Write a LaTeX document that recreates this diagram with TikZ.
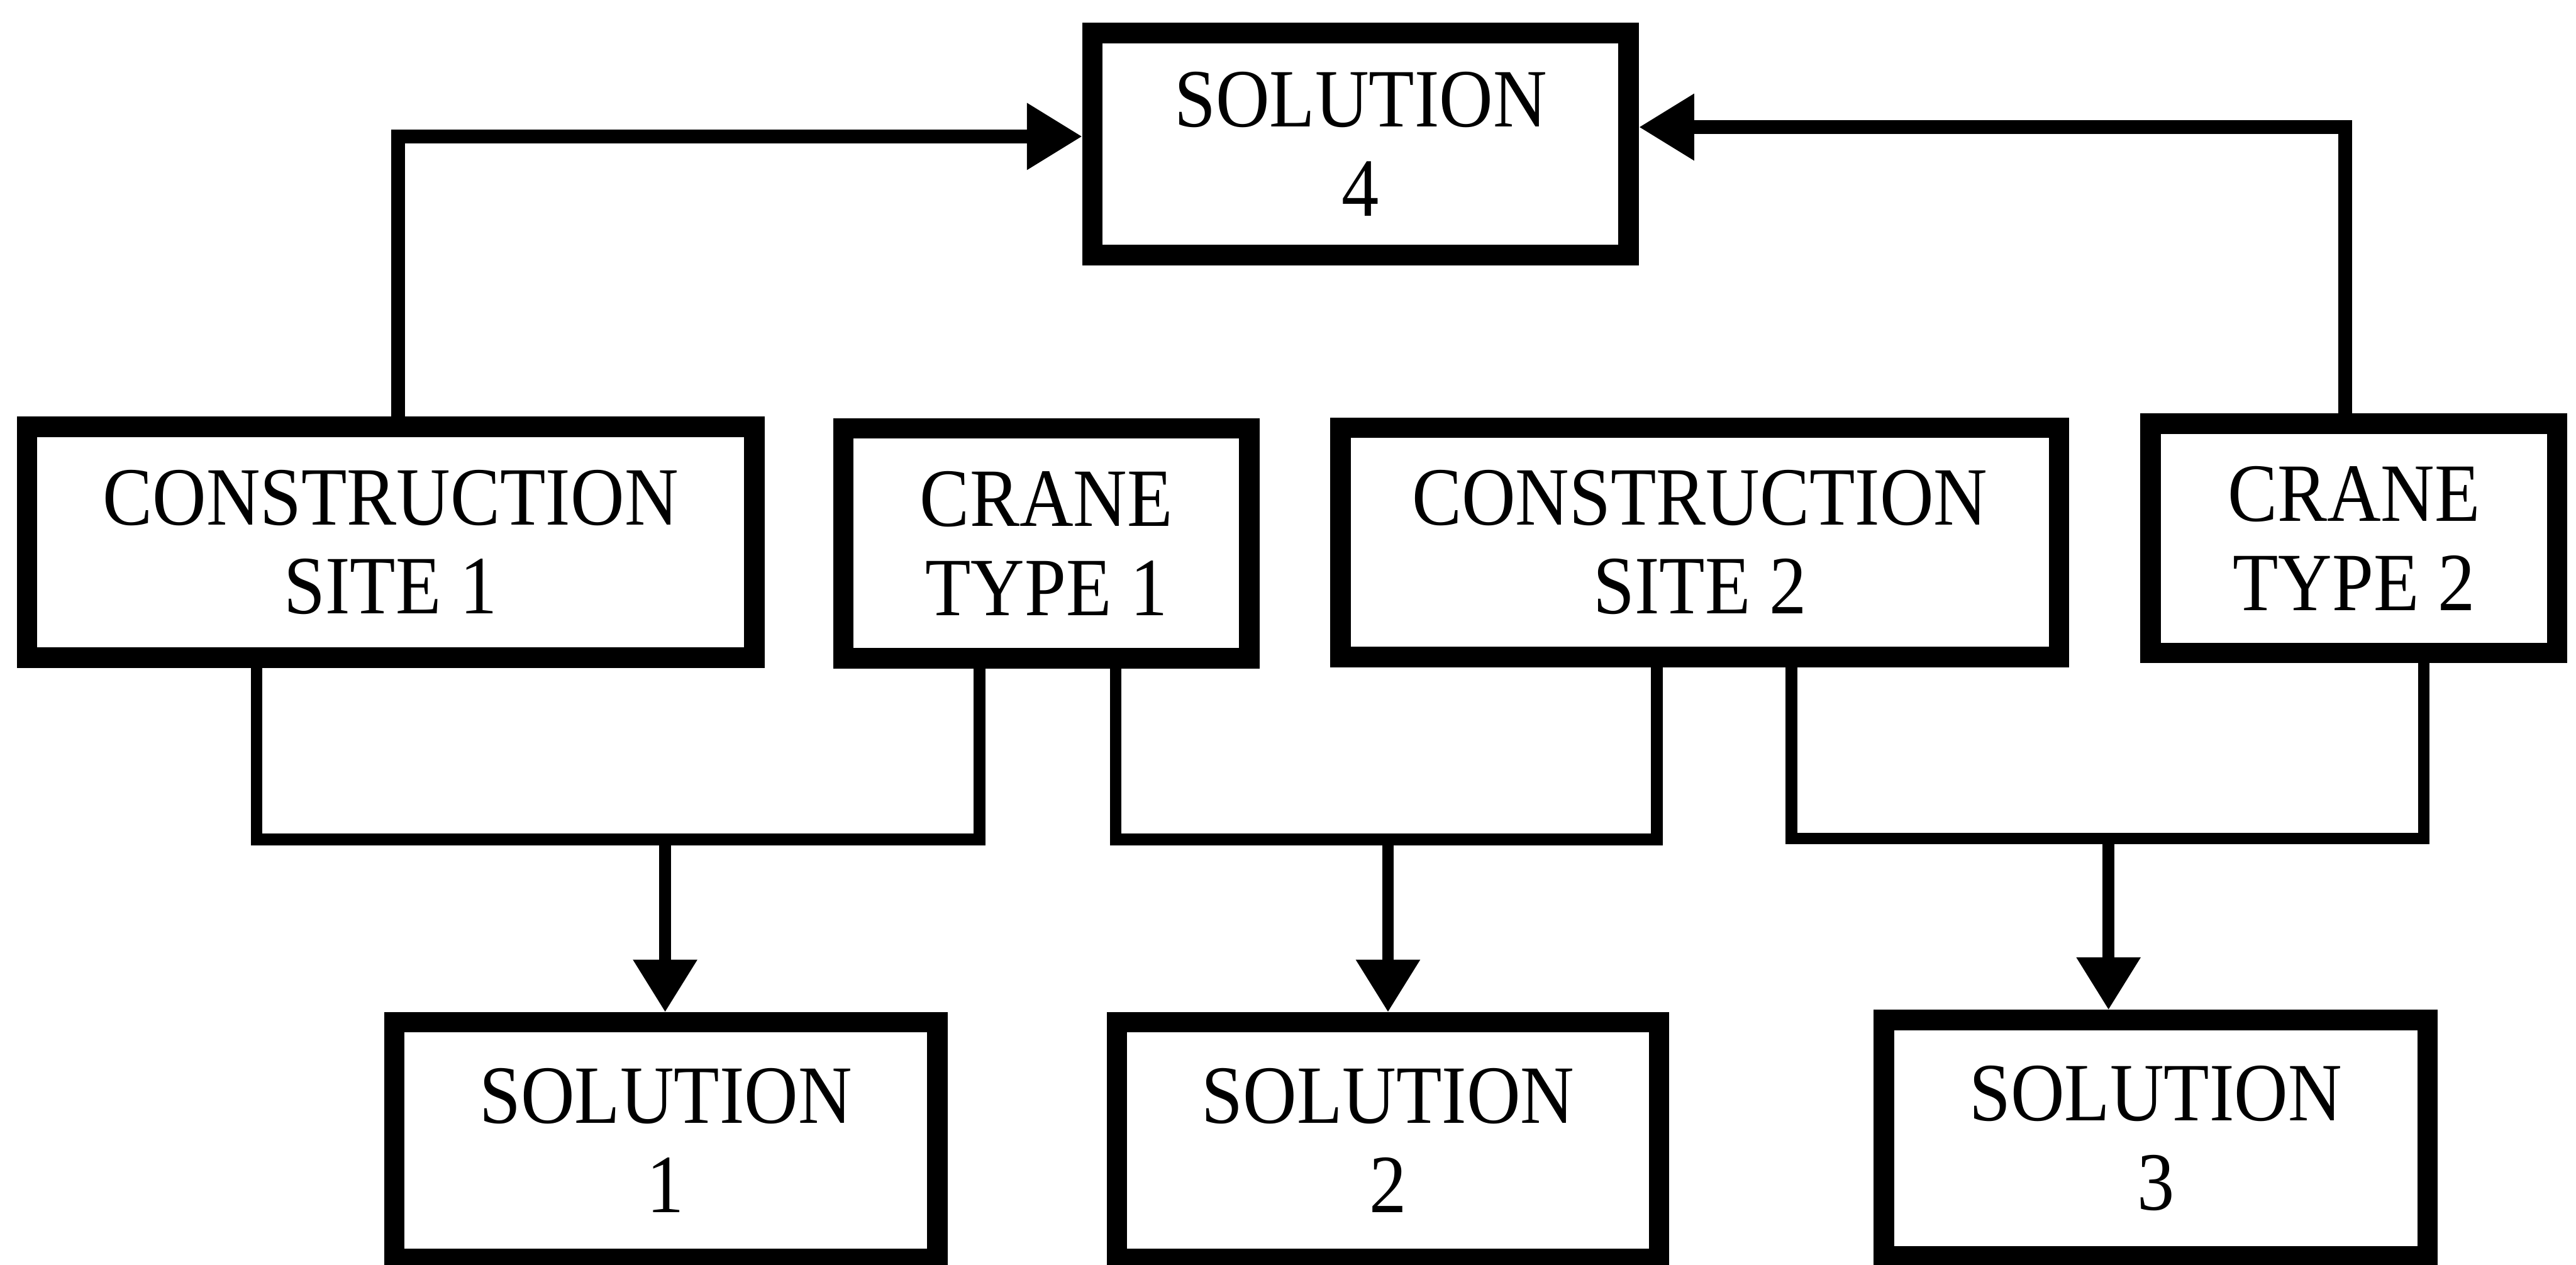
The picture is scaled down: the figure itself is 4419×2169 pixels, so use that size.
\documentclass[tikz,border=0pt]{standalone}
\usepackage{fontspec}
\newfontfamily\lbl{Liberation Serif}[FakeStretch=0.9]
\usetikzlibrary{arrows.meta}
\begin{document}
\begin{tikzpicture}[x=0.01cm,y=-0.01cm,
  blk/.style={draw, line width=0.35cm, inner sep=0pt, align=center,
    font=\lbl\fontsize{40.4}{43.5}\selectfont},
  link/.style={line width=0.2cm},
  toplink/.style={line width=0.24cm},
  arr/.style={link, -{Triangle[length=0.9cm,width=1.05cm]}},
  toparr/.style={toplink, -{Triangle[length=0.95cm,width=1.08cm]}}]
\useasboundingbox (0,0) rectangle (4419,2169);
\clip (0,0) rectangle (4419,2169);

% boxes
\node[blk, minimum width=9.19cm, minimum height=3.81cm] (sol4) at (2334,247) {SOLUTION\\4};
\node[blk, minimum width=12.47cm, minimum height=3.96cm] (cs1) at (670,930) {CONSTRUCTION\\SITE 1};
\node[blk, minimum width=6.96cm, minimum height=3.94cm] (ct1) at (1795,932) {CRANE\\TYPE 1};
\node[blk, minimum width=12.32cm, minimum height=3.93cm] (cs2) at (2916,930) {CONSTRUCTION\\SITE 2};
\node[blk, minimum width=6.97cm, minimum height=3.93cm] (ct2) at (4038,923) {CRANE\\TYPE 2};
\node[blk, minimum width=9.31cm, minimum height=4.05cm] (sol1) at (1142,1956) {SOLUTION\\1};
\node[blk, minimum width=9.29cm, minimum height=4.05cm] (sol2) at (2381,1956) {SOLUTION\\2};
\node[blk, minimum width=9.32cm, minimum height=4.05cm] (sol3) at (3698,1952) {SOLUTION\\3};

% upper feedback connectors
\coordinate (jl) at (683,234);
\coordinate (jr) at (4023,218);
\draw[toparr] (cs1.north -| jl) |- (sol4.west |- jl);
\draw[toparr] (ct2.north -| jr) |- (sol4.east |- jr);

% lower joining connectors
\coordinate (a1) at (440,1440);
\coordinate (b1) at (1680,1440);
\coordinate (m1) at (1141,1440);
\draw[link] (cs1.south -| a1) -- (a1) -- (b1) -- (ct1.south -| b1);
\draw[arr] (m1) -- (sol1.north -| m1);

\coordinate (a2) at (1914,1440);
\coordinate (b2) at (2842,1440);
\coordinate (m2) at (2381,1440);
\draw[link] (ct1.south -| a2) -- (a2) -- (b2) -- (cs2.south -| b2);
\draw[arr] (m2) -- (sol2.north -| m2);

\coordinate (a3) at (3073,1438);
\coordinate (b3) at (4158,1438);
\coordinate (m3) at (3617,1438);
\draw[link] (cs2.south -| a3) -- (a3) -- (b3) -- (ct2.south -| b3);
\draw[arr] (m3) -- (sol3.north -| m3);
\end{tikzpicture}
\end{document}
